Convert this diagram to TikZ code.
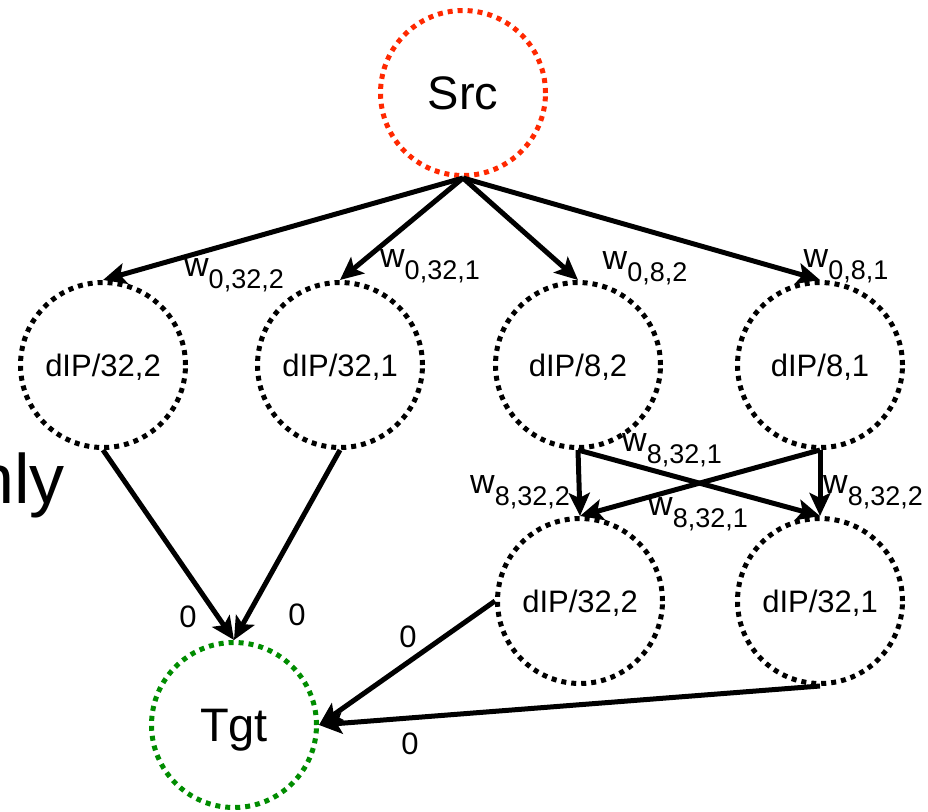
\documentclass[tikz,border=0pt]{standalone}
\usepackage{fontspec}
\setmainfont{Liberation Sans}
\usetikzlibrary{arrows.meta}
\definecolor{srcred}{RGB}{255,40,0}
\definecolor{tgtgreen}{RGB}{0,140,0}
% weight label: w with a lowered, smaller subscript
\newcommand\wlab[1]{w\raisebox{-12pt}{\fontsize{27}{27}\selectfont #1}}
\begin{document}
\begin{tikzpicture}[x=1pt,y=-1pt,
  state/.style={circle, draw, line width=5pt, dash pattern=on 5pt off 5pt,
    minimum size=165pt, inner sep=0pt, text depth=0pt,
    font=\fontsize{31}{31}\selectfont},
  bigstate/.style={state, font=\fontsize{47}{47}\selectfont},
  link/.style={line width=5pt, -{Stealth[length=23pt,width=21pt,inset=5pt]}},
  wtext/.style={font=\fontsize{34}{34}\selectfont, inner sep=0pt},
  ztext/.style={font=\fontsize{31}{31}\selectfont, inner sep=0pt, text depth=0pt}]
\useasboundingbox (0,0) rectangle (928,811);

% partly hidden word at the left edge
\node[anchor=base west, inner sep=0pt, font=\fontsize{70}{70}\selectfont] (cut) at (-25,503) {nly};

% nodes
\node[bigstate, draw=srcred] (src) at (463,93) {Src};
\node[state] (a1) at (103,365) {dIP/32,2};
\node[state] (a2) at (340,365) {dIP/32,1};
\node[state] (a3) at (578,365) {dIP/8,2};
\node[state] (a4) at (820,365) {dIP/8,1};
\node[state] (b1) at (580,601) {dIP/32,2};
\node[state] (b2) at (820,601) {dIP/32,1};
\node[bigstate, draw=tgtgreen] (tgt) at (234,725) {Tgt};

% connectors
\draw[link] (src.south) -- (a1.north);
\draw[link] (src.south) -- (a2.north);
\draw[link] (src.south) -- (a3.north);
\draw[link] (src.south) -- (a4.north);
\draw[link] (a1.south) -- (tgt.north);
\draw[link] (a2.south) -- (tgt.north);
\draw[link] (a3.south) -- (b1.north);
\draw[link] (a3.south) -- (b2.north);
\draw[link] (a4.south) -- (b2.north);
\draw[link] (a4.south) -- (b1.north);
\draw[link] (b1.west) -- (tgt.east);
\draw[link] (b2.south) -- (tgt.east);

% weights
\node[wtext] (w1) at (234,275) {\wlab{0,32,2}};
\node[wtext] (w2) at (430,266) {\wlab{0,32,1}};
\node[wtext] (w3) at (645,268) {\wlab{0,8,2}};
\node[wtext] (w4) at (846,266) {\wlab{0,8,1}};
\node[wtext] (w5) at (520,492) {\wlab{8,32,2}};
\node[wtext] (w6) at (672,450) {\wlab{8,32,1}};
\node[wtext] (w7) at (698,514) {\wlab{8,32,1}};
\node[wtext] (w8) at (873,492) {\wlab{8,32,2}};

\node[ztext] (z1) at (188,617) {0};
\node[ztext] (z2) at (297,615) {0};
\node[ztext] (z3) at (408,637) {0};
\node[ztext] (z4) at (410,744) {0};
\end{tikzpicture}
\end{document}
